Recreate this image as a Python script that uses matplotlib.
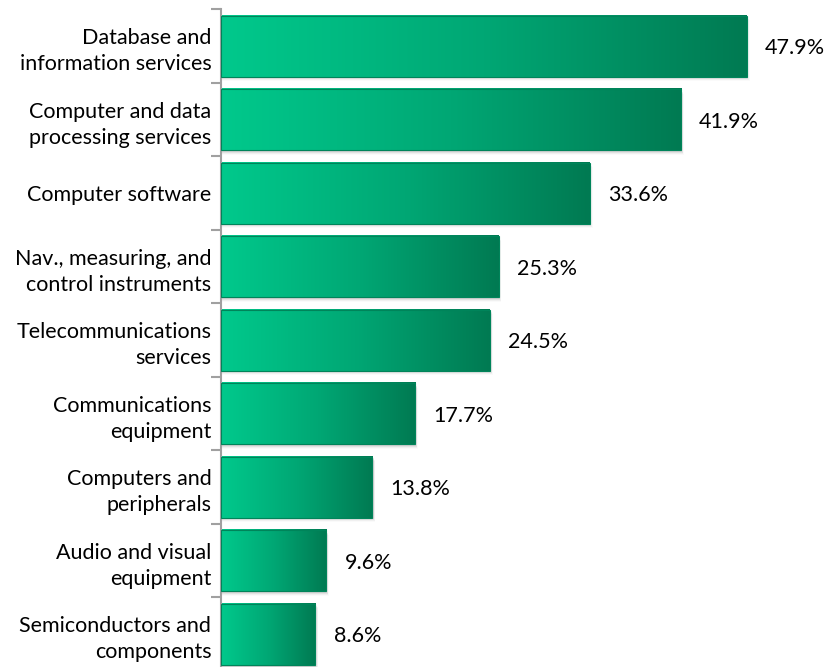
import matplotlib
matplotlib.use("Agg")
import matplotlib.pyplot as plt
import numpy as np
from matplotlib.colors import LinearSegmentedColormap
from matplotlib.patches import Rectangle

categories = [
    "Database and\ninformation services",
    "Computer and data\nprocessing services",
    "Computer software",
    "Nav., measuring, and\ncontrol instruments",
    "Telecommunications\nservices",
    "Communications\nequipment",
    "Computers and\nperipherals",
    "Audio and visual\nequipment",
    "Semiconductors and\ncomponents",
]
shares = [47.9, 41.9, 33.6, 25.3, 24.5, 17.7, 13.8, 9.6, 8.6]

plt.rcParams["font.family"] = ["Lato", "DejaVu Sans"]

fig = plt.figure(figsize=(8.38, 6.67), dpi=100)
ax = fig.add_axes([0.2637, -0.006, 0.7363, 0.992])

green = LinearSegmentedColormap.from_list("bar_green", ["#00c98c", "#00a774", "#007a52"])
grad = np.linspace(0, 1, 256).reshape(1, -1)

n = len(categories)
ys = np.arange(n)
h = 0.83
for y, v in zip(ys, shares):
    top = y - h / 2
    bot = y + h / 2
    # soft drop shadow under each bar
    for k, a in enumerate([0.10, 0.08, 0.06, 0.04, 0.02]):
        off = 0.012 * (k + 1)
        ax.add_patch(Rectangle((0, top + off), v + 0.12 * (k + 1) * 0.4, h,
                               facecolor="black", alpha=a, edgecolor="none", zorder=1))
    ax.imshow(grad, cmap=green, aspect="auto", extent=(0, v, bot, top), zorder=2)
    ax.add_patch(Rectangle((0, top), v, h, facecolor="none", edgecolor="#00845a",
                           linewidth=0.8, zorder=3))
    ax.text(v + 1.65, y + 0.03, f"{v}%", va="center", ha="left", fontsize=15.5, color="black")

ax.set_xlim(0, 56.2)
ax.set_ylim(n - 0.5, -0.5)

ax.set_yticks(ys)
ax.set_yticklabels(categories, fontsize=15.5, color="black", linespacing=1.38)
ax.set_yticks(np.arange(n + 1) - 0.5, minor=True)
ax.tick_params(axis="y", which="major", length=0, pad=7)
ax.tick_params(axis="y", which="minor", length=7, width=1.5, color="#a0a0a0")
ax.set_xticks([])
for side in ["top", "right", "bottom"]:
    ax.spines[side].set_visible(False)
ax.spines["left"].set_color("#a0a0a0")
ax.spines["left"].set_linewidth(1.5)
for lab in ax.get_yticklabels():
    lab.set_horizontalalignment("right")

fig.savefig("out.png", dpi=100)
